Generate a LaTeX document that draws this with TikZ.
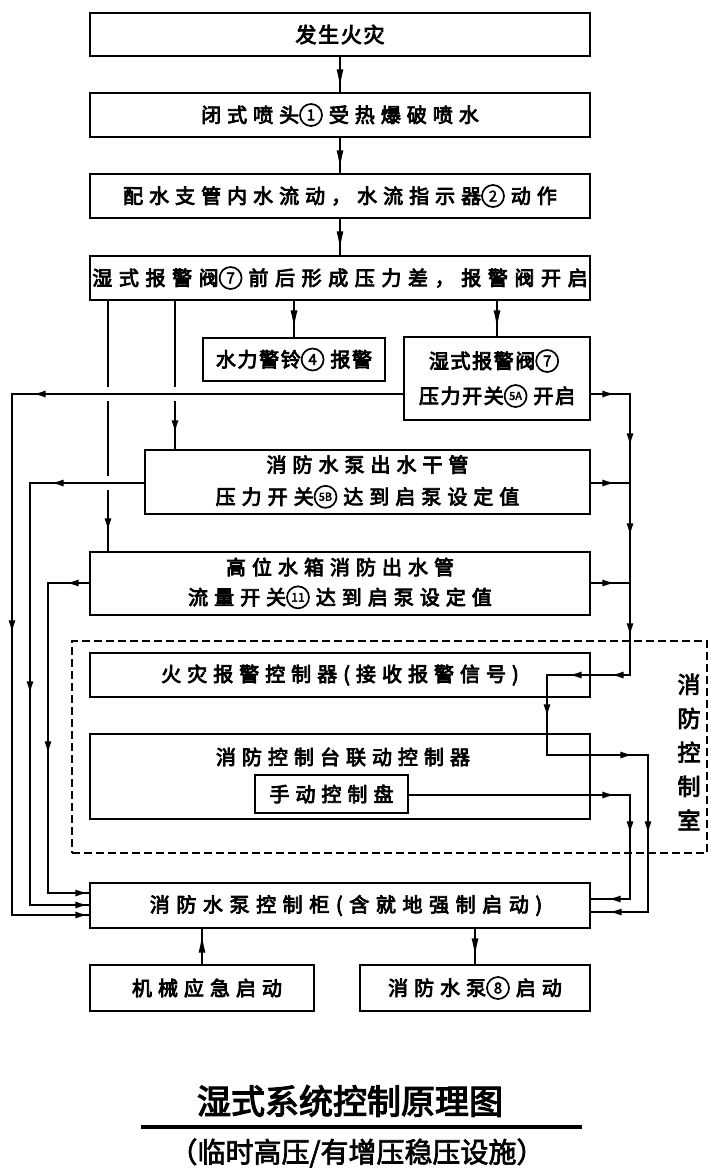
\documentclass[tikz,border=0pt]{standalone}
\usepackage{fontspec}
\usetikzlibrary{arrows.meta,decorations.markings}
\newfontfamily\bxf{Noto Sans CJK SC}[LetterSpace=30,FakeBold=4]
\newfontfamily\bxw{Noto Sans CJK SC}[LetterSpace=33,FakeBold=4]
\newfontfamily\bxn{Noto Sans CJK SC}[LetterSpace=8,FakeBold=4]
\newfontfamily\hdf{Noto Sans CJK SC}[FakeBold=3.5]
\newfontfamily\sbf{Noto Sans CJK SC}[FakeBold=2.5]
\newfontfamily\numf{Noto Sans CJK SC}[FakeBold=3]
\newcommand\cnum[2][15]{\tikz[baseline={([yshift=-7.4pt]c.center)}]\node[circle,draw,line width=1.7pt,inner sep=0pt,minimum size=22pt,font={\numf\fontsize{#1}{#1}\selectfont}](c){#2};\kern6pt}
\begin{document}
\begin{tikzpicture}[x=1pt,y=-1pt,
  box/.style={draw,line width=2.8pt,inner sep=0pt,align=center,font=\bxf\fontsize{20}{20}\selectfont},
  conn/.style={line width=1.9pt},
  ar/.style={postaction={decorate,decoration={markings,mark=at position #1 with {\arrow{Latex[length=13pt,width=7pt]}}}}},
  arl/.style={postaction={decorate,decoration={markings,mark=at position #1 with {\arrow{Latex[length=19pt,width=7pt]}}}}},
  room/.style={draw,line width=2.2pt,dash pattern=on 8pt off 4pt,inner sep=0pt}
]
\useasboundingbox[fill=white] (0,0) rectangle (720,1176);

% boxes
\node[box,minimum width=500pt,minimum height=43pt,font=\bxn\fontsize{21}{21}\selectfont] (n1) at (340,34.5) {发生火灾};
\node[box,minimum width=500pt,minimum height=44pt] (n2) at (340,115) {闭式喷头\cnum{1}受热爆破喷水};
\node[box,minimum width=500pt,minimum height=44pt] (n3) at (340,196) {配水支管内水流动，水流指示器\cnum{2}动作};
\node[box,minimum width=500pt,minimum height=44pt,font=\bxw\fontsize{20}{20}\selectfont] (n4) at (340,278) {湿式报警阀\cnum{7}前后形成压力差，报警阀开启};
\node[box,minimum width=182pt,minimum height=43pt,font=\bxn\fontsize{20}{20}\selectfont] (bell) at (294,359.5) {水力警铃\cnum{4}报警};
\node[box,minimum width=186pt,minimum height=83pt,font=\bxn\fontsize{20}{35}\selectfont] (p5a) at (497,378.5) {湿式报警阀\cnum{7}\\压力开关\cnum[11]{5A}开启};
\node[box,minimum width=445pt,minimum height=64pt,font=\bxf\fontsize{20}{32}\selectfont] (p5b) at (367.5,482) {消防水泵出水干管\\压力开关\cnum[11]{5B}达到启泵设定值};
\node[box,minimum width=500pt,minimum height=63pt,font=\bxf\fontsize{20}{30}\selectfont] (f11) at (340,583.5) {高位水箱消防出水管\\流量开关\cnum[12]{11}达到启泵设定值};

\node[room,minimum width=635pt,minimum height=212pt] (room) at (389.5,747) {};
\node[font=\hdf\fontsize{23}{34}\selectfont,align=center] (roomlbl) at (689,752) {消\\防\\控\\制\\室};

\node[box,minimum width=500pt,minimum height=44pt] (fac) at (340,675) {火灾报警控制器(接收报警信号)};
\node[box,minimum width=500pt,minimum height=85pt] (link) at (340,776.5) {};
\node[font=\bxf\fontsize{20}{20}\selectfont,inner sep=0pt] (linkt) at (343,757) {消防控制台联动控制器};
\node[box,minimum width=153pt,minimum height=38pt] (man) at (331.5,794) {手动控制盘};

\node[box,minimum width=500pt,minimum height=45pt,font=\bxw\fontsize{20}{20}\selectfont] (cab) at (340,905.5) {\hspace*{12pt}消防水泵控制柜(含就地强制启动)};
\node[box,minimum width=224pt,minimum height=46pt] (mech) at (202,988) {\hspace*{10pt}机械应急启动};
\node[box,minimum width=230pt,minimum height=46pt] (pump) at (475,988) {消防水泵\cnum{8}启动};

\node[font=\hdf\fontsize{34}{34}\selectfont,inner sep=0pt] (title) at (350,1101) {湿式系统控制原理图};
\coordinate (ulA) at (141,1127);
\coordinate (ulB) at (582,1127);
\draw[line width=3.2pt] (ulA) -- (ulB);
\node[font=\sbf\fontsize{28}{28}\selectfont,inner sep=0pt] (sub) at (357,1153) {（临时高压/有增压稳压设施）};

% helper coordinates
\coordinate (xD) at (175,0);
\coordinate (xE) at (108,0);
\coordinate (xL1) at (12,0);
\coordinate (xL2) at (30,0);
\coordinate (xL3) at (48,0);
\coordinate (xR1) at (630,0);
\coordinate (xR2) at (648,0);
\coordinate (xM) at (547,0);
\coordinate (yA) at (0,394);
\coordinate (yB) at (0,483);
\coordinate (yC) at (0,583);
\coordinate (yC1) at (0,893);
\coordinate (yC2) at (0,905);
\coordinate (yC3) at (0,915);
\coordinate (yF) at (0,675);
\coordinate (yG) at (0,755);
\coordinate (yH) at (0,795);
\coordinate (yR1) at (0,899);
\coordinate (yR2) at (0,912);

% main chain
\draw[conn,arl=31pt] (n1) -- (n2);
\draw[conn,arl=31pt] (n2) -- (n3);
\draw[conn,arl=31pt] (n3) -- (n4);
\draw[conn,arl=28pt] (n4.south -| bell.north) -- (bell.north);
\draw[conn,arl=28pt] (n4.south -| p5a.north) -- (p5a.north);
\draw[conn,ar=132pt] (n4.south -| xD) -- (p5b.north -| xD);
\draw[conn,ar=230pt] (n4.south -| xE) -- (f11.north -| xE);

% line jumps
\fill[white] (xE |- yA) ++(-4,-7) rectangle ++(8,14);
\fill[white] (xD |- yA) ++(-4,-7) rectangle ++(8,14);
\fill[white] (xE |- yB) ++(-4,-7) rectangle ++(8,14);

% left side
\draw[conn,ar=370pt,ar=630pt,ar=988pt] (p5a.west |- yA) -- (xL1 |- yA) -- (xL1 |- yC3) -- (cab.west |- yC3);
\draw[conn,ar=93pt,ar=325pt,ar=594pt] (p5b.west |- yB) -- (xL2 |- yB) -- (xL2 |- yC2) -- (cab.west |- yC2);
\draw[conn,ar=23pt,ar=212pt,ar=391pt] (f11.west |- yC) -- (xL3 |- yC) -- (xL3 |- yC1) -- (cab.west |- yC1);

% right side
\draw[conn,ar=24pt,ar=91pt,ar=181pt,ar=281pt,ar=339pt,ar=381pt,ar=445pt,ar=569pt,ar=663pt,ar=780pt]
  (p5a.east |- yA) -- (xR1 |- yA) -- (xR1 |- yF) -- (xM |- yF) -- (xM |- yG) -- (xR2 |- yG) -- (xR2 |- yR2) -- (cab.east |- yR2);
\draw[conn,ar=24pt] (p5b.east |- yB) -- (xR1 |- yB);
\draw[conn,ar=24pt] (f11.east |- yC) -- (xR1 |- yC);
\draw[conn,ar=206pt,ar=260pt,ar=347pt] (man.east |- yH) -- (xR1 |- yH) -- (xR1 |- yR1) -- (cab.east |- yR1);

% bottom
\draw[conn,arl=30pt] (mech.north) -- (cab.south -| mech.north);
\draw[conn,arl=28pt] (cab.south -| pump.north) -- (pump.north);
\end{tikzpicture}
\end{document}
